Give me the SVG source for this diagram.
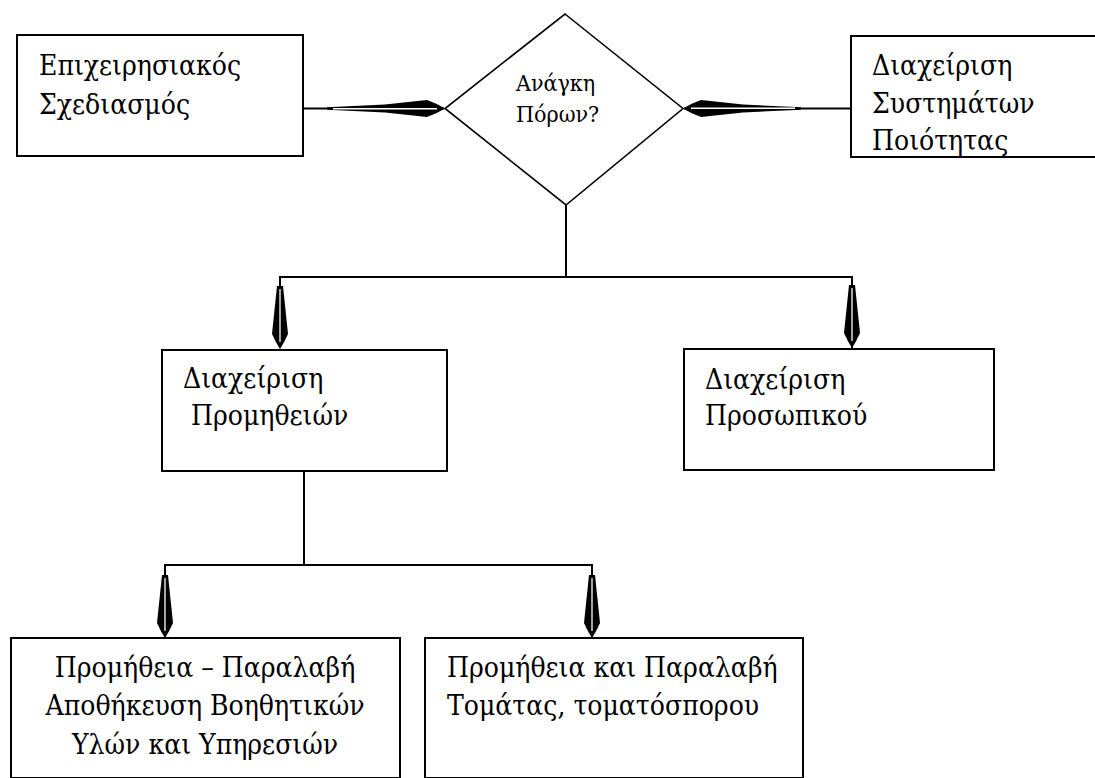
<svg xmlns="http://www.w3.org/2000/svg" xmlns:xlink="http://www.w3.org/1999/xlink" width="1095" height="778" viewBox="0 0 1095 778">
  <style>
    .box { fill: #fff; stroke: #000; stroke-width: 2; }
    .dia { fill: #fff; stroke: #000; stroke-width: 1.6; }
    .wire { fill: none; stroke: #000; stroke-width: 2; }
    .lbl { font-family: "DejaVu Serif Condensed", "DejaVu Serif", "Liberation Serif", serif; font-stretch: condensed; font-size: 28px; fill: #000; }
    .lbl-s { font-family: "DejaVu Serif Condensed", "DejaVu Serif", "Liberation Serif", serif; font-stretch: condensed; font-size: 23px; fill: #000; }
  </style>
  <defs>
    <!-- long pen-nib arrowhead, tip at origin, pointing +x -->
    <g id="head-long">
      <path d="M-118,-1.2 L-60,-4 L-18,-8.5 Q-8,-5 0,0 Q-8,5 -18,8.5 L-60,4 L-118,1.2 Z" fill="#000"/>
      <line x1="-112" y1="0.3" x2="-8" y2="0.3" stroke="#fff" stroke-width="1.4"/>
    </g>
    <!-- short pen-nib arrowhead, tip at origin, pointing +x -->
    <g id="head-short">
      <path d="M-63,-3 L-15,-8 Q-7,-4.5 0,0 Q-7,4.5 -15,8 L-63,3 Z" fill="#000"/>
      <line x1="-60" y1="0" x2="-7" y2="0" stroke="#fff" stroke-width="1.3"/>
    </g>
  </defs>

  <rect width="1095" height="778" fill="#fff"/>

  <!-- connectors -->
  <g id="connectors">
    <line class="wire" x1="303" y1="108.5" x2="444" y2="108.5"/>
    <line class="wire" x1="851" y1="108.5" x2="684" y2="108.5"/>
    <polyline class="wire" points="566,205 566,277"/>
    <polyline class="wire" points="280,348 280,277 852,277 852,348"/>
    <polyline class="wire" points="304,471 304,565"/>
    <polyline class="wire" points="165,637 165,565 592,565 592,637"/>
    <use xlink:href="#head-long" transform="translate(445,108.5)"/>
    <use xlink:href="#head-long" transform="translate(683,108.5) rotate(180)"/>
    <use xlink:href="#head-short" transform="translate(280,349) rotate(90)"/>
    <use xlink:href="#head-short" transform="translate(852,348) rotate(90)"/>
    <use xlink:href="#head-short" transform="translate(165,638) rotate(90)"/>
    <use xlink:href="#head-short" transform="translate(592,638) rotate(90)"/>
  </g>

  <g id="node-planning">
    <rect class="box" x="17" y="35" width="286" height="121"/>
    <text class="lbl" x="39" y="75">Επιχειρησιακός</text>
    <text class="lbl" x="39" y="114">Σχεδιασμός</text>
  </g>

  <g id="node-decision">
    <polygon class="dia" points="565,14 683,108.5 566,205 445,108.5"/>
    <text class="lbl-s" x="516" y="91">Ανάγκη</text>
    <text class="lbl-s" x="516" y="122">Πόρων?</text>
  </g>

  <g id="node-quality">
    <rect class="box" x="851" y="36" width="260" height="121"/>
    <text class="lbl" x="872" y="75">Διαχείριση</text>
    <text class="lbl" x="872" y="113">Συστημάτων</text>
    <text class="lbl" x="872" y="150">Ποιότητας</text>
  </g>

  <g id="node-supplies">
    <rect class="box" x="162" y="350" width="285" height="121"/>
    <text class="lbl" x="183" y="388">Διαχείριση</text>
    <text class="lbl" x="183" y="425" xml:space="preserve"> Προμηθειών</text>
  </g>

  <g id="node-staff">
    <rect class="box" x="684" y="349" width="310" height="121"/>
    <text class="lbl" x="705" y="389">Διαχείριση</text>
    <text class="lbl" x="705" y="425">Προσωπικού</text>
  </g>

  <g id="node-auxiliary">
    <rect class="box" x="11" y="638" width="389" height="140"/>
    <text class="lbl" x="205" y="677" text-anchor="middle">Προμήθεια – Παραλαβή</text>
    <text class="lbl" x="205" y="715" text-anchor="middle">Αποθήκευση Βοηθητικών</text>
    <text class="lbl" x="205" y="754" text-anchor="middle">Υλών και Υπηρεσιών</text>
  </g>

  <g id="node-tomato">
    <rect class="box" x="425" y="638" width="378" height="140"/>
    <text class="lbl" x="447" y="677">Προμήθεια και Παραλαβή</text>
    <text class="lbl" x="447" y="715">Τομάτας, τοματόσπορου</text>
  </g>
</svg>
